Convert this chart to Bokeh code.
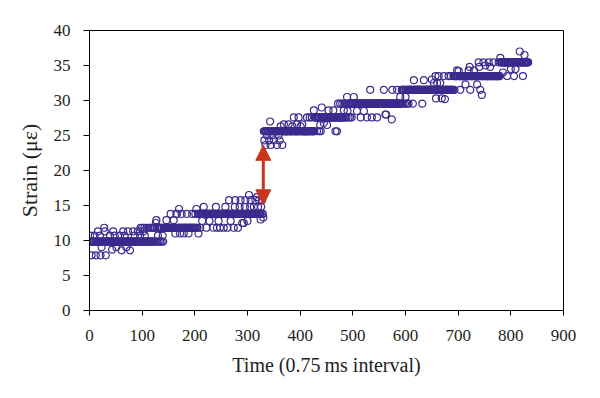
import numpy as np
from bokeh.plotting import figure
from bokeh.models import Arrow, NormalHead, FixedTicker
from bokeh.embed import file_html
from bokeh.resources import INLINE

# ---- data (strain in micro-strain, time in samples) ----
# base level runs of the quantised strain signal
seg_start = [0, 121, 206, 331, 428, 491, 593, 691, 781]
seg_end = [120, 205, 330, 427, 490, 592, 690, 780, 833]
seg_strain = [9.85, 11.82, 13.79, 25.61, 27.58, 29.55, 31.52, 33.49, 35.46]

# individual samples that leave the base level
dev_time = [
    4, 12, 21, 31, 43, 61, 77, 23, 51, 70,
    1, 10, 20, 39, 48, 58, 67, 86, 96, 105, 130, 139,
    16, 29, 45, 64, 73, 83, 92, 102,
    28, 97, 100, 104, 108, 112, 115, 118,
    122, 125, 128, 131, 134, 137, 140, 126, 127, 146, 160, 165,
    154, 166, 175, 185, 195, 201, 170, 203, 179, 188, 207, 163, 172,
    210, 222, 235, 242, 248, 255, 262, 274, 282,
    214, 228, 245, 268, 300, 290, 293,
    217, 240, 258, 276, 285, 295, 305, 312, 320, 326,
    265, 277, 287, 296, 306, 315, 322, 328, 303, 318, 330, 325,
    334, 344, 356, 366, 332, 341, 350, 361, 337, 347, 359, 343,
    369, 378, 394, 404, 363, 385, 401,
    388, 397, 413, 418, 422, 426,
    432, 436, 439, 467, 470, 438, 451, 445, 454, 463, 483, 441,
    472, 476, 480, 484, 487, 492, 495, 498, 489, 502,
    515, 527, 536, 546, 562, 563, 574, 490, 508, 521,
    533, 559, 575, 584, 590,
    596, 599, 603, 606, 614, 632, 600,
    616, 635, 650, 654, 660, 666, 657, 663, 673, 682, 686, 658, 669, 675,
    693, 704, 723, 742, 714, 736, 745, 698, 720, 730, 701, 722, 740, 761,
    739, 748, 758, 767, 777, 752, 780,
    793, 806, 823, 800, 809, 817, 826, 785,
]
dev_strain = [
    7.88, 7.88, 7.88, 7.88, 8.7, 8.6, 8.6, 9.05, 9.05, 9.05,
    10.7, 10.7, 10.7, 10.7, 10.7, 10.7, 10.7, 10.7, 10.7, 10.7, 10.7, 10.7,
    11.3, 11.3, 11.3, 11.3, 11.3, 11.3, 11.3, 11.3,
    11.82, 11.82, 11.82, 11.82, 11.82, 11.82, 11.82, 11.82,
    9.85, 9.85, 9.85, 9.85, 9.85, 9.85, 9.85, 12.5, 12.9, 12.9, 12.9, 13.79,
    13.79, 13.79, 13.79, 13.79, 13.79, 13.79, 14.5, 14.5, 11.0, 11.0, 11.0, 11.0, 11.0,
    11.82, 11.82, 11.82, 11.82, 11.82, 11.82, 11.82, 11.82, 11.82,
    12.8, 12.8, 12.8, 12.8, 12.8, 12.5, 12.5,
    14.8, 14.8, 14.8, 14.8, 14.8, 14.8, 14.8, 14.8, 14.8, 14.8,
    15.76, 15.76, 15.76, 15.76, 15.76, 15.76, 15.76, 15.76, 16.5, 16.2, 13.3, 13.0,
    23.64, 23.64, 23.64, 23.64, 24.3, 24.3, 24.3, 24.3, 25.0, 25.0, 25.0, 27.0,
    26.6, 26.6, 26.6, 26.6, 26.3, 26.3, 26.3,
    27.58, 27.58, 27.58, 27.58, 27.58, 28.6,
    25.61, 25.61, 25.61, 25.61, 25.61, 26.5, 26.5, 26.8, 28.6, 28.6, 28.6, 29.0,
    29.55, 29.55, 29.55, 29.55, 29.55, 27.58, 27.58, 27.58, 30.5, 30.5,
    27.58, 27.58, 27.58, 27.58, 28.0, 28.0, 27.3, 28.5, 28.5, 28.5,
    31.52, 31.52, 31.52, 31.52, 30.5,
    29.55, 29.55, 29.55, 29.55, 29.55, 29.55, 30.5,
    32.9, 32.9, 33.0, 32.5, 32.5, 32.5, 33.49, 33.49, 33.49, 33.49, 33.49, 30.3, 30.3, 30.2,
    31.52, 31.52, 31.52, 31.52, 32.3, 32.3, 30.8, 34.3, 34.3, 34.3, 34.2, 34.8, 34.8, 34.8,
    35.46, 35.46, 35.46, 35.46, 35.46, 35.0, 36.1,
    33.49, 33.49, 33.49, 34.5, 34.5, 37.0, 36.5, 34.0,
]

x_ticks = [0, 100, 200, 300, 400, 500, 600, 700, 800, 900]
y_ticks = [0, 5, 10, 15, 20, 25, 30, 35, 40]

# double arrow marking the strain jump
arrow_time = 330
arrow_low = 15.1
arrow_high = 23.6

# ---- build the sample series ----
t = np.arange(seg_start[0], seg_end[-1] + 1)
strain = np.zeros(len(t))
for s, e, v in zip(seg_start, seg_end, seg_strain):
    strain[s:e + 1] = v
for ti, v in zip(dev_time, dev_strain):
    strain[ti] = v

TEXT = "#231f20"
FONT = "'Liberation Serif', serif"
DOT = "#3b2b8e"
RED = "#c9361c"

p = figure(frame_width=474, frame_height=280, x_range=(0, 900), y_range=(0, 40),
           output_backend="svg", toolbar_location=None,
           min_border_left=89, min_border_right=29, min_border_top=30, min_border_bottom=80,
           background_fill_color="white", border_fill_color="white")

p.scatter(t, strain, marker="circle", size=7, line_color=DOT, fill_color=None, line_width=1.2)

head_kw = dict(size=15, fill_color=RED, line_color=RED)
p.add_layout(Arrow(start=NormalHead(**head_kw), end=NormalHead(**head_kw),
                   x_start=arrow_time, y_start=arrow_low, x_end=arrow_time, y_end=arrow_high,
                   line_color=RED, line_width=3))

p.grid.visible = False
p.outline_line_color = "black"
p.outline_line_width = 1

for ax in (p.xaxis[0], p.yaxis[0]):
    ax.major_label_text_font = FONT
    ax.major_label_text_font_size = "17px"
    ax.major_label_text_color = TEXT
    ax.axis_line_color = "black"
    ax.major_tick_line_color = "black"
    ax.minor_tick_line_color = None
    ax.major_tick_in = 0
    ax.axis_label_text_font = FONT
    ax.axis_label_text_font_style = "normal"
    ax.axis_label_text_color = TEXT

p.xaxis.ticker = FixedTicker(ticks=x_ticks)
p.yaxis.ticker = FixedTicker(ticks=y_ticks)
p.xaxis.major_tick_out = 5
p.yaxis.major_tick_out = 6
p.xaxis.major_label_standoff = 14
p.yaxis.major_label_standoff = 13
p.xaxis.axis_label = "Time (0.75\u2009ms interval)"
p.xaxis.axis_label_text_font_size = "20px"
p.xaxis.axis_label_standoff = 10
p.yaxis.axis_label = "Strain (\u03bc\u03b5)"
p.yaxis.axis_label_text_font_size = "22px"
p.yaxis.axis_label_standoff = 9

open("out.html", "w").write(file_html(p, INLINE))
